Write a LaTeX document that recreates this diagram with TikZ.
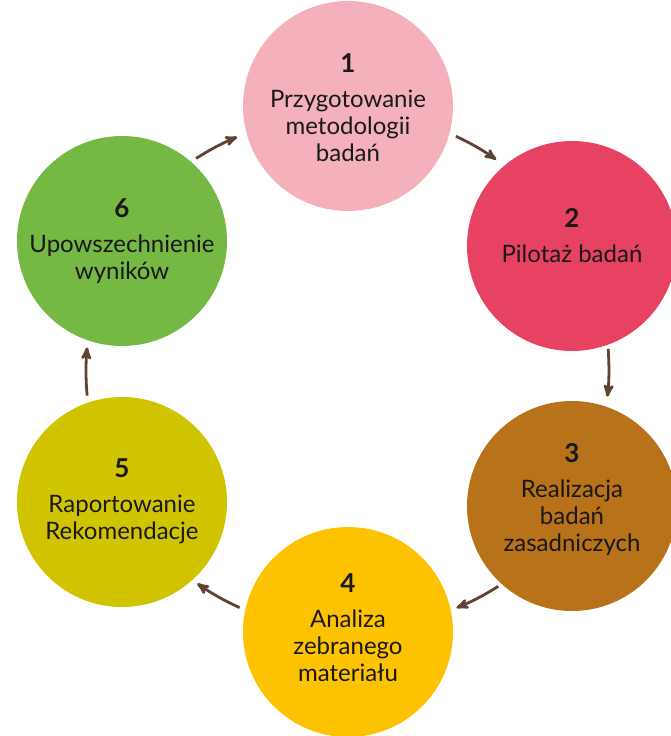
\documentclass[tikz,border=0pt]{standalone}
\usepackage{fontspec}
\setmainfont{Lato}
\usepackage{tikz}
\usetikzlibrary{arrows}

\definecolor{rosepink}{HTML}{F5B1BB}
\definecolor{crimson}{HTML}{E84262}
\definecolor{ochre}{HTML}{B87219}
\definecolor{amber}{HTML}{FDC300}
\definecolor{olive}{HTML}{D0C300}
\definecolor{leaf}{HTML}{76B844}
\definecolor{bark}{HTML}{5E4234}

\newcommand{\stepno}[1]{{\fontsize{26}{27}\selectfont\bfseries #1}\\[8pt]}

\begin{document}
\begin{tikzpicture}
[
	              x = 1pt, y = 1pt,
	          >= stealth',
	  phase/.style = { circle, minimum size=210pt, inner sep=0pt },
	caption/.style = { align=center, text=black!90, font=\fontsize{24}{27}\selectfont },
	   link/.style = { ->, draw=bark, line width=2.8pt, bend left=5 }
]
	\useasboundingbox (0,0) rectangle (671,-736);

	\node (10) at (348,-106)  [phase, fill=rosepink] {};
	\node (11) at (348,-108)  [caption] {\stepno{1} Przygotowanie\\ metodologii\\ badań};

	\node (20) at (572,-246)  [phase, fill=crimson]  {};
	\node (21) at (572,-236)  [caption] {\stepno{2} Pilotaż badań};

	\node (30) at (572,-506)  [phase, fill=ochre]    {};
	\node (31) at (572,-500)  [caption] {\stepno{3} Realizacja\\ badań\\ zasadniczych};

	\node (40) at (348,-632)  [phase, fill=amber]    {};
	\node (41) at (348,-628)  [caption] {\stepno{4} Analiza\\ zebranego\\ materiału};

	\node (50) at (122,-502)  [phase, fill=olive]    {};
	\node (51) at (122,-501)  [caption] {\stepno{5} Raportowanie\\ Rekomendacje};

	\node (60) at (122,-241)  [phase, fill=leaf]     {};
	\node (61) at (122,-241)  [caption] {\stepno{6} Upowszechnienie\\ wyników};

	\draw [link, shorten <=6pt, shorten >=10pt] (60.49)   to (10.-165);
	\draw [link, shorten <=7pt, shorten >=10pt] (10.-15)  to (20.130);
	\draw [link, shorten <=4pt, shorten >=10pt] (20.-70)  to (30.71);
	\draw [link, shorten <=4pt, shorten >=6pt]  (30.-132) to (40.12);
	\draw [link, shorten <=6pt, shorten >=6pt]  (40.168)  to (50.-48);
	\draw [link, shorten <=7pt, shorten >=7pt]  (50.109)  to (60.-109);

\end{tikzpicture}
\end{document}
